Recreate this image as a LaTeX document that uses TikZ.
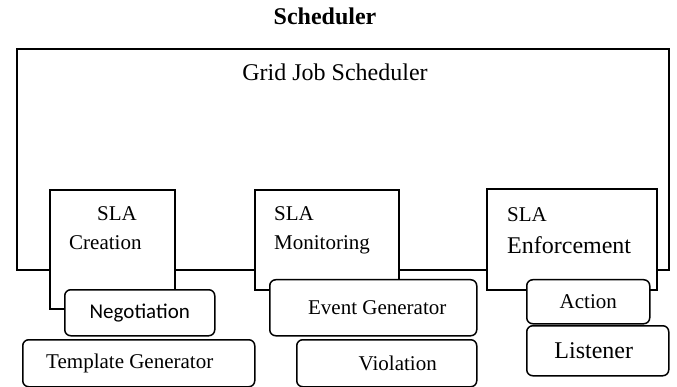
\documentclass[tikz,border=0pt]{standalone}
\usepackage{fontspec}
\setmainfont{Liberation Serif}
\newfontfamily\calibri{Carlito}
\usetikzlibrary{positioning}

\begin{document}
\begin{tikzpicture}[x=1pt, y=-1pt,
        frame/.style={draw, line width=1.7pt, fill=white, anchor=north west,
                      inner sep=0pt},
        part/.style={draw, line width=1.5pt, fill=white, rounded corners=6pt,
                     anchor=north west, inner sep=0pt,
                     font=\fontsize{21}{25}\selectfont},
        txt/.style={inner sep=0pt, anchor=north west, align=left,
                    font=\fontsize{21}{29}\selectfont},
        big/.style={inner sep=0pt, font=\fontsize{24}{28}\selectfont},
    ]
        \useasboundingbox (0,0) rectangle (677,387);

        \node[big, font=\fontsize{24}{28}\selectfont\bfseries] (title) at (325,16) {Scheduler};

        \node[frame, minimum width=652pt, minimum height=221pt] (grid) at (16,48) {};
        \node[big] (gridtext) at (335,72) {Grid Job Scheduler};

        \node[frame, minimum width=125pt, minimum height=119pt] (creation)    at (49,189)  {};
        \node[frame, minimum width=144pt, minimum height=100pt] (monitoring)  at (254,189) {};
        \node[frame, minimum width=170pt, minimum height=101pt] (enforcement) at (486,188) {};

        \node[txt, below right=17pt and 20pt of creation.north west]    (creationtext)    {\hspace*{28pt}SLA\\Creation};
        \node[txt, below right=17pt and 20pt of monitoring.north west]  (monitoringtext)  {SLA\\Monitoring};
        \node[txt, below right=19pt and 21pt of enforcement.north west] (enforcementtext) {SLA\\[3pt]{\fontsize{24}{29}\selectfont Enforcement}};

        \node[part, minimum width=150pt, minimum height=46pt, font=\fontsize{21}{25}\calibri] (negotiation) at (64,289)  {Negotiation};
        \node[part, minimum width=232pt, minimum height=47pt] (template)  at (22,339)  {Template Generator\hspace*{18pt}};
        \node[part, minimum width=207pt, minimum height=56pt] (eventgen)  at (269,279) {\hspace*{8pt}Event Generator};
        \node[part, minimum width=180pt, minimum height=47pt] (violation) at (296,339) {\hspace*{22pt}Violation};
        \node[part, minimum width=123pt, minimum height=44pt] (action)    at (526,279) {Action};
        \node[part, minimum width=142pt, minimum height=50pt, font=\fontsize{24}{28}\selectfont] (listener) at (526,325) {Listener\hspace*{8pt}};
    \end{tikzpicture}
\end{document}
